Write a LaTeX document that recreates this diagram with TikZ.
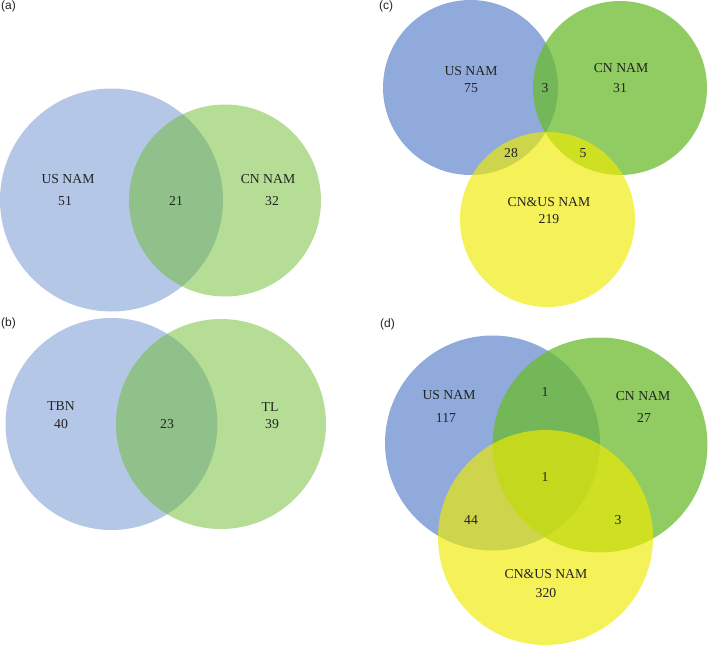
\documentclass[tikz,border=0pt]{standalone}
\usepackage{fontspec}
\setmainfont{Liberation Serif}
\setsansfont{Liberation Sans}
\usepackage{tikz}

\definecolor{vennblue}{RGB}{107,143,207}
\definecolor{venngreen}{RGB}{107,187,45}
\definecolor{vennyellow}{RGB}{240,235,0}
\definecolor{venntext}{RGB}{35,35,35}

\tikzset{
  setlabel/.style={font=\fontsize{13.7}{16}\selectfont, text=venntext, inner sep=0pt},
  panellabel/.style={font=\sffamily\fontsize{12}{14}\selectfont, text=venntext, inner sep=0pt, anchor=north west},
  blueset/.style={fill=vennblue, fill opacity=#1},
  greenset/.style={fill=venngreen, fill opacity=#1},
  yellowset/.style={fill=vennyellow, fill opacity=#1}
}

\begin{document}
\begin{tikzpicture}[x=1pt, y=-1pt]
          \useasboundingbox (0,0) rectangle (709,646);

          % (a)
          \fill[blueset=0.5]  (111.5,200) circle (111.5pt);
          \fill[greenset=0.5] (225,200.5) circle (96pt);
          \node[panellabel] (pa) at (1,1) {(a)};
          \node[setlabel] (aus)  at (68,179) {US NAM};
          \node[setlabel] (ausn) at (65,201) {51};
          \node[setlabel] (abn)  at (176,201) {21};
          \node[setlabel] (acn)  at (268,179) {CN NAM};
          \node[setlabel] (acnn) at (272,201) {32};

          % (b)
          \fill[blueset=0.5]  (111.5,424) circle (106pt);
          \fill[greenset=0.5] (221,424) circle (105pt);
          \node[panellabel] (pb) at (1,318) {(b)};
          \node[setlabel] (btbn)  at (61,406) {TBN};
          \node[setlabel] (btbnn) at (61,424) {40};
          \node[setlabel] (bbn)   at (167,424) {23};
          \node[setlabel] (btl)   at (270,407) {TL};
          \node[setlabel] (btln)  at (272,424) {39};

          % (c)
          \fill[blueset=0.75]   (470.5,87.5) circle (87.5pt);
          \fill[greenset=0.75]  (620,88) circle (87pt);
          \fill[yellowset=0.65] (547.5,219.5) circle (87.5pt);
          \node[panellabel] (pc) at (379,1) {(c)};
          \node[setlabel] (cus)   at (471,71) {US NAM};
          \node[setlabel] (cusn)  at (471,88) {75};
          \node[setlabel] (cuscn) at (545,88) {3};
          \node[setlabel] (ccn)   at (621,68) {CN NAM};
          \node[setlabel] (ccnn)  at (620,88) {31};
          \node[setlabel] (cusb)  at (511,153) {28};
          \node[setlabel] (ccnb)  at (583,153) {5};
          \node[setlabel] (cb)    at (549,202) {CN\&US NAM};
          \node[setlabel] (cbn)   at (549,219) {219};

          % (d)
          \fill[blueset=0.75]   (492.5,443) circle (107.5pt);
          \fill[greenset=0.75]  (600,445) circle (107.5pt);
          \fill[yellowset=0.65] (545.5,537.5) circle (107.5pt);
          \node[panellabel] (pd) at (380,319) {(d)};
          \node[setlabel] (dus)   at (449,395) {US NAM};
          \node[setlabel] (dusn)  at (446,418) {117};
          \node[setlabel] (duscn) at (545,392) {1};
          \node[setlabel] (dcn)   at (643,396) {CN NAM};
          \node[setlabel] (dcnn)  at (644,418) {27};
          \node[setlabel] (dall)  at (545,477) {1};
          \node[setlabel] (dusb)  at (471,520) {44};
          \node[setlabel] (dcnb)  at (618,520) {3};
          \node[setlabel] (db)    at (546,574) {CN\&US NAM};
          \node[setlabel] (dbn)   at (546,593) {320};
        \end{tikzpicture}
\end{document}
